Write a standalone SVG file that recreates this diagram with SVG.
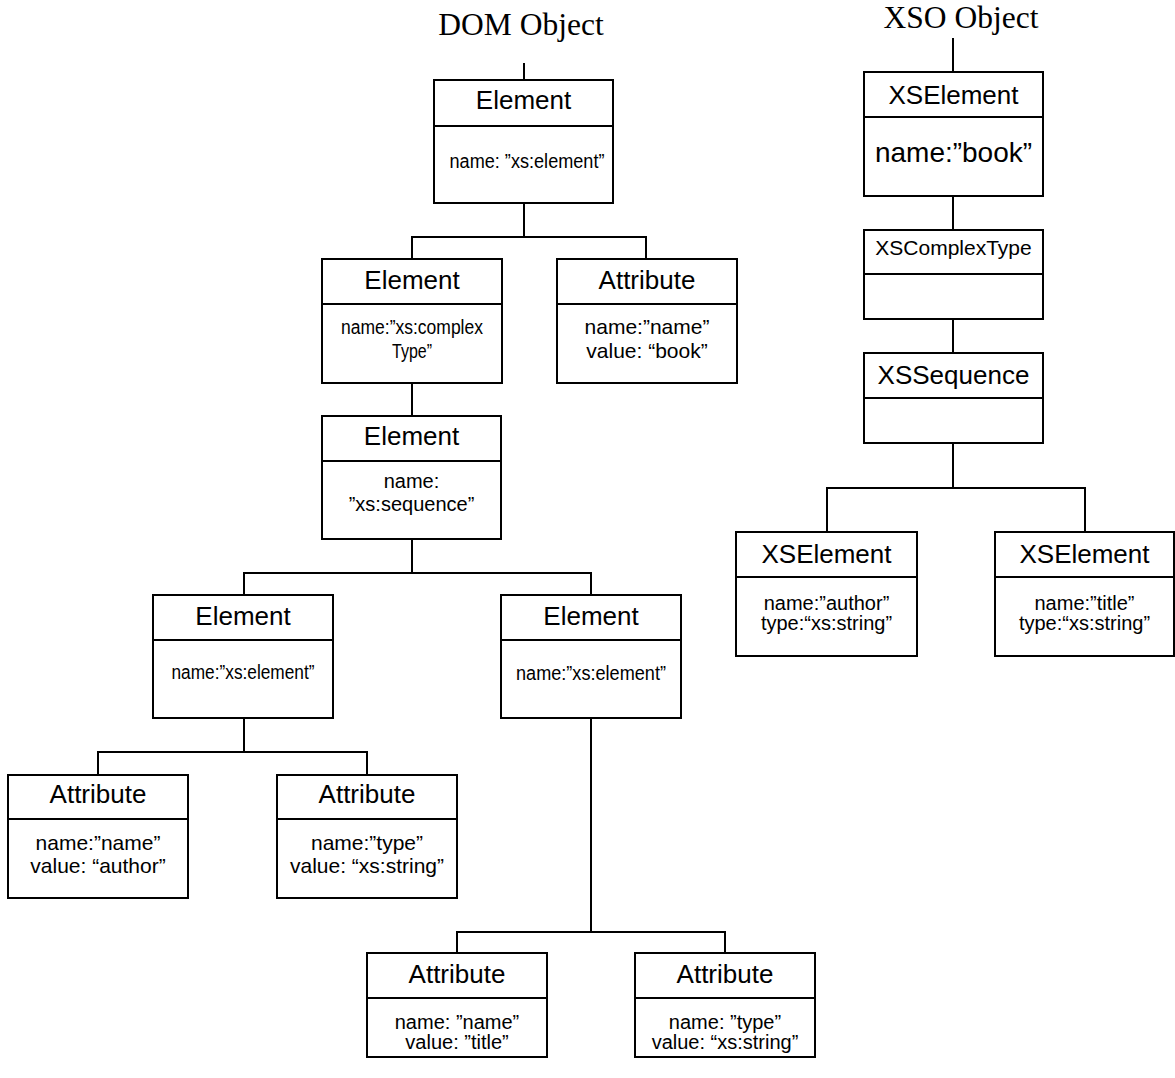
<svg xmlns="http://www.w3.org/2000/svg" width="1175" height="1078" viewBox="0 0 1175 1078">
  <style>
    .box { fill: #ffffff; stroke: #000000; stroke-width: 2; }
    .div { stroke: #000000; stroke-width: 2; }
    .wire { fill: none; stroke: #000000; stroke-width: 2; }
    .head { font-family: "Liberation Serif", "Times New Roman", serif; font-size: 31.5px; fill: #000; text-anchor: middle; }
    .title { font-family: "Liberation Sans", Arial, sans-serif; font-size: 26px; fill: #000; text-anchor: middle; }
    .body { font-family: "Liberation Sans", Arial, sans-serif; font-size: 21px; fill: #000; text-anchor: middle; }
    .small { font-family: "Liberation Sans", Arial, sans-serif; font-size: 20px; fill: #000; text-anchor: middle; }
    .narrow { font-family: "Liberation Sans", Arial, sans-serif; font-size: 20px; fill: #000; text-anchor: middle; }
  </style>

  <!-- headings -->
  <text class="head" x="521" y="35">DOM Object</text>
  <text class="head" x="961" y="28">XSO Object</text>

  <!-- connectors -->
  <g id="connectors">
    <!-- DOM tree -->
    <path class="wire" d="M524 63 V80"/>
    <path class="wire" d="M524 203 V237 M412 259 V237 H646 V259"/>
    <path class="wire" d="M412 383 V416"/>
    <path class="wire" d="M412 539 V573 M244 595 V573 H591 V595"/>
    <path class="wire" d="M244 718 V752 M98 775 V752 H367 V775"/>
    <path class="wire" d="M591 718 V932 M457 953 V932 H725 V953"/>
    <!-- XSO tree -->
    <path class="wire" d="M953 38 V72"/>
    <path class="wire" d="M953 196 V230"/>
    <path class="wire" d="M953 319 V353"/>
    <path class="wire" d="M953 443 V488 M827 532 V488 H1085 V532"/>
  </g>

  <!-- DOM nodes -->
  <g id="dom-element-root">
    <rect class="box" x="434" y="80" width="179" height="123"/>
    <line class="div" x1="434" y1="126" x2="613" y2="126"/>
    <text class="title" x="523.5" y="109">Element</text>
    <text class="narrow" x="527" y="168" textLength="155" lengthAdjust="spacingAndGlyphs">name: ”xs:element”</text>
  </g>

  <g id="dom-element-complextype">
    <rect class="box" x="322" y="259" width="180" height="124"/>
    <line class="div" x1="322" y1="304" x2="502" y2="304"/>
    <text class="title" x="412" y="289">Element</text>
    <text class="narrow" x="412" y="334" textLength="142" lengthAdjust="spacingAndGlyphs">name:”xs:complex</text>
    <text class="narrow" x="412" y="358" textLength="40" lengthAdjust="spacingAndGlyphs">Type”</text>
  </g>

  <g id="dom-attribute-book">
    <rect class="box" x="557" y="259" width="180" height="124"/>
    <line class="div" x1="557" y1="304" x2="737" y2="304"/>
    <text class="title" x="647" y="289">Attribute</text>
    <text class="body" x="647" y="334">name:”name”</text>
    <text class="body" x="647" y="358">value: “book”</text>
  </g>

  <g id="dom-element-sequence">
    <rect class="box" x="322" y="416" width="179" height="123"/>
    <line class="div" x1="322" y1="461" x2="501" y2="461"/>
    <text class="title" x="411.5" y="445">Element</text>
    <text class="small" x="411.5" y="488">name:</text>
    <text class="small" x="411.5" y="511">”xs:sequence”</text>
  </g>

  <g id="dom-element-author">
    <rect class="box" x="153" y="595" width="180" height="123"/>
    <line class="div" x1="153" y1="640" x2="333" y2="640"/>
    <text class="title" x="243" y="625">Element</text>
    <text class="narrow" x="243" y="679" textLength="143" lengthAdjust="spacingAndGlyphs">name:”xs:element”</text>
  </g>

  <g id="dom-element-title">
    <rect class="box" x="501" y="595" width="180" height="123"/>
    <line class="div" x1="501" y1="640" x2="681" y2="640"/>
    <text class="title" x="591" y="625">Element</text>
    <text class="narrow" x="591" y="680" textLength="150" lengthAdjust="spacingAndGlyphs">name:”xs:element”</text>
  </g>

  <g id="dom-attribute-author-name">
    <rect class="box" x="8" y="775" width="180" height="123"/>
    <line class="div" x1="8" y1="819" x2="188" y2="819"/>
    <text class="title" x="98" y="803">Attribute</text>
    <text class="body" x="98" y="850">name:”name”</text>
    <text class="body" x="98" y="873">value: “author”</text>
  </g>

  <g id="dom-attribute-author-type">
    <rect class="box" x="277" y="775" width="180" height="123"/>
    <line class="div" x1="277" y1="819" x2="457" y2="819"/>
    <text class="title" x="367" y="803">Attribute</text>
    <text class="body" x="367" y="850">name:”type”</text>
    <text class="body" x="367" y="873">value: “xs:string”</text>
  </g>

  <g id="dom-attribute-title-name">
    <rect class="box" x="367" y="953" width="180" height="104"/>
    <line class="div" x1="367" y1="998" x2="547" y2="998"/>
    <text class="title" x="457" y="983">Attribute</text>
    <text class="small" x="457" y="1029">name: ”name”</text>
    <text class="small" x="457" y="1049">value: ”title”</text>
  </g>

  <g id="dom-attribute-title-type">
    <rect class="box" x="635" y="953" width="180" height="104"/>
    <line class="div" x1="635" y1="998" x2="815" y2="998"/>
    <text class="title" x="725" y="983">Attribute</text>
    <text class="small" x="725" y="1029">name: ”type”</text>
    <text class="small" x="725" y="1049">value: “xs:string”</text>
  </g>

  <!-- XSO nodes -->
  <g id="xso-element-book">
    <rect class="box" x="864" y="72" width="179" height="124"/>
    <line class="div" x1="864" y1="117" x2="1043" y2="117"/>
    <text class="title" x="953.5" y="104">XSElement</text>
    <text class="title" x="953.5" y="162" style="font-size:28px">name:”book”</text>
  </g>

  <g id="xso-complextype">
    <rect class="box" x="864" y="230" width="179" height="89"/>
    <line class="div" x1="864" y1="274" x2="1043" y2="274"/>
    <text class="body" x="953.5" y="255">XSComplexType</text>
  </g>

  <g id="xso-sequence">
    <rect class="box" x="864" y="353" width="179" height="90"/>
    <line class="div" x1="864" y1="398" x2="1043" y2="398"/>
    <text class="title" x="953.5" y="384">XSSequence</text>
  </g>

  <g id="xso-element-author">
    <rect class="box" x="736" y="532" width="181" height="124"/>
    <line class="div" x1="736" y1="577" x2="917" y2="577"/>
    <text class="title" x="826.5" y="563">XSElement</text>
    <text class="small" x="826.5" y="610">name:”author”</text>
    <text class="small" x="826.5" y="630">type:“xs:string”</text>
  </g>

  <g id="xso-element-title">
    <rect class="box" x="995" y="532" width="179" height="124"/>
    <line class="div" x1="995" y1="577" x2="1174" y2="577"/>
    <text class="title" x="1084.5" y="563">XSElement</text>
    <text class="small" x="1084.5" y="610">name:”title”</text>
    <text class="small" x="1084.5" y="630">type:“xs:string”</text>
  </g>
</svg>
